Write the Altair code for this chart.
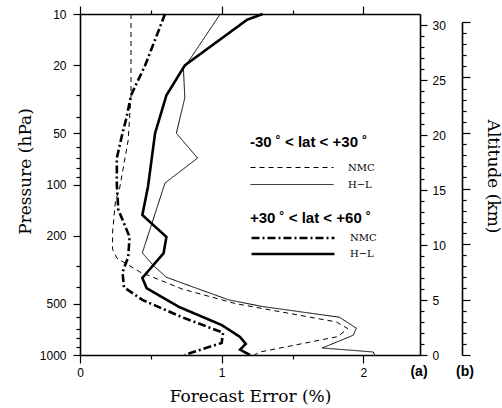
import altair as alt
import pandas as pd

# ---------------- data ----------------
# -30 < lat < +30, NMC (thin dashed)
trop_nmc_p = [10, 30, 55, 105, 125, 190, 240, 270, 325, 410, 500, 640, 700, 780, 960, 1000]
trop_nmc_err = [0.36, 0.36, 0.34, 0.28, 0.25, 0.23, 0.23, 0.26, 0.42, 0.72, 1.10, 1.81, 1.89, 1.82, 1.27, 1.23]
# -30 < lat < +30, H-L (thin solid)
trop_hl_p = [10, 21, 31, 50, 70, 98, 252, 300, 350, 373, 475, 520, 600, 695, 765, 910, 960, 1000]
trop_hl_err = [0.99, 0.73, 0.74, 0.68, 0.83, 0.60, 0.44, 0.52, 0.61, 0.70, 1.05, 1.29, 1.83, 1.95, 1.93, 1.71, 2.07, 2.08]
# +30 < lat < +60, NMC (thick dash-dot)
mid_nmc_p = [10, 20, 30, 40, 50, 70, 100, 140, 203, 267, 327, 400, 475, 600, 740, 850, 960, 1000]
mid_nmc_err = [0.60, 0.46, 0.36, 0.33, 0.30, 0.26, 0.26, 0.27, 0.35, 0.34, 0.30, 0.31, 0.44, 0.72, 1.01, 1.00, 0.80, 0.74]
# +30 < lat < +60, H-L (thick solid)
mid_hl_p = [10, 10.8, 20, 30, 50, 103, 151, 203, 253, 353, 405, 523, 667, 784, 860, 930, 1000]
mid_hl_err = [1.29, 1.18, 0.74, 0.61, 0.53, 0.48, 0.44, 0.61, 0.59, 0.44, 0.47, 0.70, 1.00, 1.13, 1.17, 1.13, 1.20]

series_names = ["NMC", "H−L"]
trop_title = "-30 ˚ < lat < +30 ˚"
mid_title = "+30 ˚ < lat < +60 ˚"

p_ticks = [10, 20, 30, 40, 50, 60, 70, 80, 90, 100, 200, 300, 400, 500, 600, 700, 800, 900, 1000]
p_major = [10, 20, 50, 100, 200, 500, 1000]
x_ticks = [0, 0.5, 1, 1.5, 2]
km_ticks = list(range(0, 31))
x_domain = [0, 2.4]
km_domain = [0, 31]
km_domain_b = [0, 30]


def frame(p, e, name):
    return pd.DataFrame({"p": p, "err": e, "series": name, "i": list(range(len(p)))})


trop = pd.concat([frame(trop_nmc_p, trop_nmc_err, series_names[0]),
                  frame(trop_hl_p, trop_hl_err, series_names[1])])
mid = pd.concat([frame(mid_nmc_p, mid_nmc_err, series_names[0]),
                 frame(mid_hl_p, mid_hl_err, series_names[1])])

W, H = 340, 341
SERIF = "DejaVu Serif"
SANS = "Liberation Sans"
X_SCALE = alt.Scale(domain=x_domain, nice=False, zero=False)
P_SCALE = alt.Scale(type="log", domain=[10, 1000], reverse=True, nice=False)

major_test = "indexof(" + str(p_major) + ", datum.value) >= 0"

left_axis = alt.Axis(
    values=p_ticks,
    labelExpr=major_test + " ? format(datum.value, 'd') : ''",
    tickSize={"condition": {"test": major_test, "value": 7}, "value": 4},
    labelPadding=7, labelOverlap=False,
    title="Pressure (hPa)", titleX=-55, titleY=157, titleAngle=-90,
    titleBaseline="middle", titleAlign="center",
)
bottom_axis = alt.Axis(
    values=x_ticks,
    labelExpr="datum.value % 1 === 0 ? format(datum.value, 'd') : ''",
    tickSize={"condition": {"test": "datum.value % 1 === 0", "value": 8}, "value": 4},
    labelPadding=4, labelFlush=False, labelOverlap=False,
    title="Forecast Error (%)", titleY=41, titleBaseline="middle",
)
top_axis = alt.Axis(
    orient="top", values=x_ticks, labels=False, title=None,
    tickSize={"condition": {"test": "datum.value % 1 === 0", "value": 8}, "value": 4},
)
right_axis_a = alt.Axis(
    orient="right", values=km_ticks,
    labelExpr="datum.value % 5 === 0 ? format(datum.value, 'd') : ''",
    tickSize={"condition": {"test": "datum.value % 5 === 0", "value": 7}, "value": 4},
    labelPadding=5, labelOverlap=False, labelFlush=False,
    title="Altitude (km)", titleX=72, titleY=162, titleAngle=90,
    titleBaseline="middle", titleAlign="center",
)
right_axis_b = alt.Axis(
    orient="right", offset=42, values=km_ticks, labels=False, title=None,
    tickSize={"condition": {"test": "datum.value % 5 === 0", "value": 8}, "value": 4},
)

legend_common = dict(
    orient="none", direction="vertical", symbolType="stroke", symbolSize=83 * 83,
    symbolStrokeColor="black", rowPadding=0, labelOffset=14,
    labelFont=SERIF, labelFontSize=10, labelColor="black",
    titleFont=SANS, titleFontSize=15, titleFontWeight="bold",
    titleColor="black", padding=0, legendX=170,
)

trop_layer = alt.Chart(trop).mark_line(color="black", strokeWidth=1).encode(
    x=alt.X("err:Q", scale=X_SCALE, axis=bottom_axis),
    y=alt.Y("p:Q", scale=P_SCALE, axis=left_axis),
    strokeDash=alt.StrokeDash(
        "series:N",
        scale=alt.Scale(domain=series_names, range=[[5, 4], [1, 0]]),
        legend=alt.Legend(title=trop_title, legendY=121, clipHeight=17,
                          titlePadding=9, symbolStrokeWidth=1, **legend_common),
    ),
    order="i:Q",
)

mid_layer = alt.Chart(mid).mark_line(color="black", strokeWidth=2.6).encode(
    x=alt.X("err:Q", scale=X_SCALE, axis=None),
    y=alt.Y("p:Q", scale=P_SCALE, axis=None),
    strokeDash=alt.StrokeDash(
        "series:N",
        scale=alt.Scale(domain=series_names, range=[[8, 3, 2, 3], [1, 0]]),
        legend=alt.Legend(title=mid_title, legendY=197, clipHeight=16,
                          titlePadding=4, symbolStrokeWidth=2.6, **legend_common),
    ),
    order="i:Q",
)

km_df = pd.DataFrame({"km": [0, 30]})
alt_a = alt.Chart(km_df).mark_point(opacity=0).encode(
    x=alt.value(0),
    y=alt.Y("km:Q", scale=alt.Scale(domain=km_domain, nice=False, zero=False), axis=right_axis_a),
)
alt_b = alt.Chart(km_df).mark_point(opacity=0).encode(
    x=alt.value(0),
    y=alt.Y("km:Q", scale=alt.Scale(domain=km_domain_b, range=[H, 8], nice=False, zero=False),
            axis=right_axis_b),
)
top_df = pd.DataFrame({"err": x_domain})
top_layer = alt.Chart(top_df).mark_point(opacity=0).encode(
    x=alt.X("err:Q", scale=X_SCALE, axis=top_axis),
    y=alt.value(0),
)

one = alt.Data(values=[{}])
lab_a = alt.Chart(one).mark_text(text="(a)", font=SANS, fontWeight="bold",
                                 fontSize=14, color="black").encode(
    x=alt.value(339), y=alt.value(358))
lab_b = alt.Chart(one).mark_text(text="(b)", font=SANS, fontWeight="bold",
                                 fontSize=14, color="black").encode(
    x=alt.value(385), y=alt.value(358))

chart = alt.layer(trop_layer, mid_layer, alt_a, alt_b, top_layer, lab_a, lab_b).resolve_scale(
    y="independent", strokeDash="independent"
).resolve_axis(x="independent").properties(
    width=W, height=H,
    autosize=alt.AutoSizeParams(type="none"),
    padding={"left": 80, "top": 14, "right": 82, "bottom": 53},
    background="white",
).configure_view(stroke=None).configure_axis(
    grid=False, domainColor="black", tickColor="black", labelColor="black", titleColor="black",
    domainWidth=1.6, tickWidth=1.2,
    labelFont=SANS, labelFontSize=12,
    titleFont=SERIF, titleFontSize=17, titleFontWeight="normal",
)

chart.save("out.html", embed_options={"renderer": "svg", "actions": False})
